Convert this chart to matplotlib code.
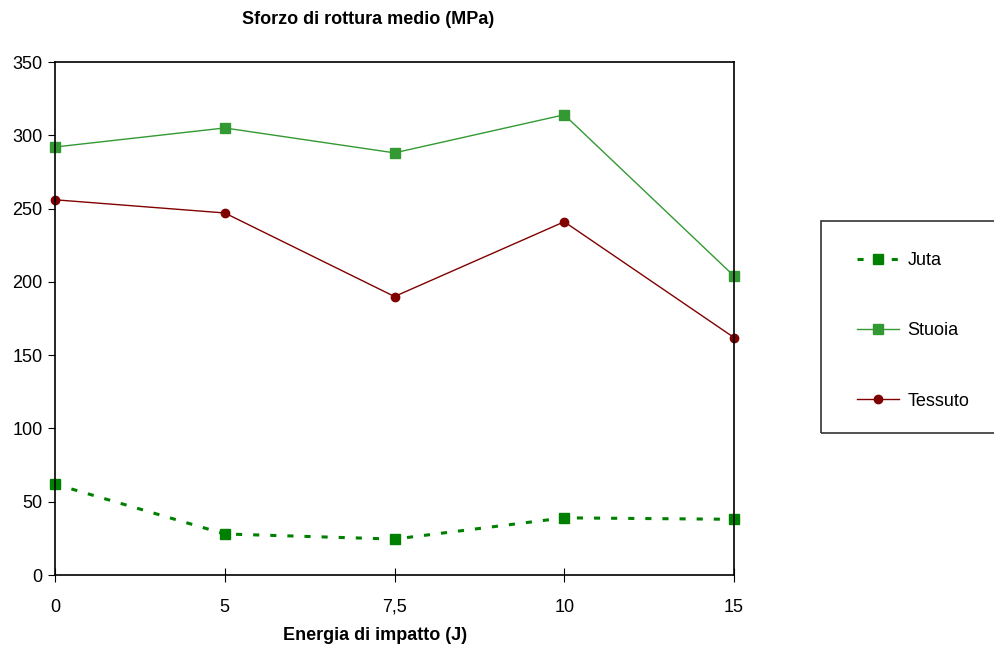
import matplotlib
matplotlib.use("Agg")
import matplotlib.pyplot as plt
from matplotlib.patches import Rectangle

plt.rcParams['font.family'] = ['Liberation Sans', 'DejaVu Sans']

energia = ['0', '5', '7,5', '10', '15']
juta = [62, 28, 24.5, 39, 38]
stuoia = [292, 305, 288, 314, 204]
tessuto = [256, 247, 190, 241, 162]

fig = plt.figure(figsize=(9.94, 6.48), dpi=100)
ax = fig.add_axes([55/994, 1-575/648, (734-55)/994, (575-62)/648])

x = list(range(len(energia)))
ax.plot(x, juta, color='#008000', linestyle=(0, (2, 3.6)), linewidth=2.2,
        marker='s', markersize=6.5, label='Juta', clip_on=False)
ax.plot(x, stuoia, color='#339933', linewidth=1, marker='s', markersize=6.5,
        label='Stuoia', clip_on=False)
ax.plot(x, tessuto, color='#800000', linewidth=1, marker='o', markersize=6,
        label='Tessuto', clip_on=False)

ax.set_xlim(0, len(energia) - 1)
ax.set_ylim(0, 350)
ax.set_yticks(range(0, 351, 50))
ax.set_xticks(x)
ax.set_xticklabels(energia)
ax.tick_params(axis='x', direction='inout', length=10, labelsize=13, pad=12)
ax.tick_params(axis='y', direction='out', length=5, labelsize=13, pad=4)
for s in ax.spines.values():
    s.set_linewidth(1.2)

fig.text(368/994, 1-20/648, 'Sforzo di rottura medio (MPa)', ha='center',
         va='center', fontsize=13, fontweight='bold')
fig.text(375/994, 1-635/648, 'Energia di impatto (J)', ha='center',
         va='center', fontsize=13, fontweight='bold')

# legend box runs off the right edge
fig.patches.append(Rectangle((821/994, 1-433/648), 0.3, 212/648,
                             transform=fig.transFigure, fill=False,
                             edgecolor='#333333', linewidth=1.2))
fig.legend(loc='upper left', bbox_to_anchor=(857/994, 1-252/648),
           frameon=False, fontsize=13, labelspacing=2.95, handlelength=2.3,
           handletextpad=0.5, borderaxespad=0, borderpad=0)

fig.savefig('out.png', dpi=100)
